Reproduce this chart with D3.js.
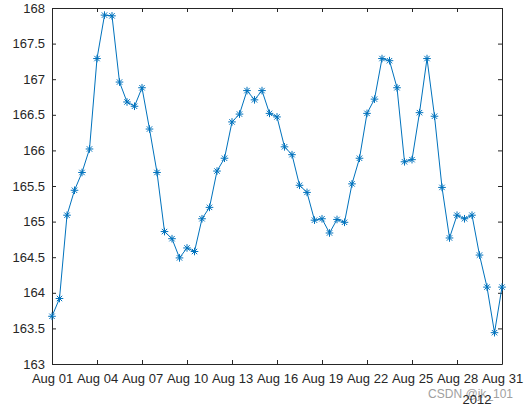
<!DOCTYPE html>
<html>
<head>
<meta charset="utf-8">
<script src="https://d3js.org/d3.v7.min.js"></script>
<style>
body { margin: 0; background: #fff; }
text { font-family: "Liberation Sans", Arial, sans-serif; }
</style>
</head>
<body>
<script>
//figure size
var w = 530, h = 411;

//readings every 12 hours, starting Aug 01 2012 00:00
var startDate = new Date(2012, 7, 1);
var stepHours = 12;
var values = [
    163.67, 163.92, 165.09, 165.44, 165.69, 166.02, 167.29, 167.90, 167.89, 166.96,
    166.68, 166.62, 166.88, 166.30, 165.69, 164.86, 164.76, 164.49, 164.63, 164.58,
    165.04, 165.20, 165.71, 165.89, 166.40, 166.51, 166.84, 166.71, 166.84, 166.52,
    166.47, 166.05, 165.94, 165.51, 165.41, 165.02, 165.04, 164.84, 165.03, 164.99,
    165.53, 165.89, 166.52, 166.72, 167.29, 167.26, 166.88, 165.84, 165.87, 166.53,
    167.29, 166.48, 165.48, 164.77, 165.09, 165.04, 165.09, 164.53, 164.08, 163.44,
    164.08
];

//tick values
var yTicks = [163, 163.5, 164, 164.5, 165, 165.5, 166, 166.5, 167, 167.5, 168];
var xTickDays = [1, 4, 7, 10, 13, 16, 19, 22, 25, 28, 31];
var yearLabel = "2012";
var watermark = "CSDN @jk_101";

//plot box (window.top is reserved, so use other names)
var boxLeft = 52, boxRight = 502, boxTop = 8, boxBottom = 364;
var axisColor = "#262626";
var lineColor = "#0072BD";

var svg = d3.select("body")
    .append("svg")
    .attr("width", w)
    .attr("height", h)
    .style("background-color", "#fff");

var data = values.map(function(v, i){
    return { date: d3.timeHour.offset(startDate, i * stepHours), value: v };
});

var x = d3.scaleTime()
    .domain([startDate, new Date(2012, 7, 31)])
    .range([boxLeft, boxRight]);

var y = d3.scaleLinear()
    .domain([163, 168])
    .range([boxBottom, boxTop]);

var xTicks = xTickDays.map(function(d){ return new Date(2012, 7, d); });
var fmt = d3.timeFormat("%b %d");

//bottom axis, ticks pointing in
svg.append("g")
    .attr("transform", "translate(0," + boxBottom + ")")
    .call(d3.axisBottom(x).tickValues(xTicks).tickFormat(fmt)
        .tickSizeInner(-4).tickSizeOuter(0).tickPadding(10));

//top axis, no labels
svg.append("g")
    .attr("transform", "translate(0," + boxTop + ")")
    .call(d3.axisTop(x).tickValues(xTicks).tickFormat("")
        .tickSizeInner(-4).tickSizeOuter(0));

//left axis
svg.append("g")
    .attr("transform", "translate(" + boxLeft + ",0)")
    .call(d3.axisLeft(y).tickValues(yTicks).tickFormat(d3.format(""))
        .tickSizeInner(-4).tickSizeOuter(0).tickPadding(7));

//right axis, no labels
svg.append("g")
    .attr("transform", "translate(" + boxRight + ",0)")
    .call(d3.axisRight(y).tickValues(yTicks).tickFormat("")
        .tickSizeInner(-4).tickSizeOuter(0));

svg.selectAll(".domain, .tick line")
    .attr("stroke", axisColor)
    .attr("stroke-width", 1);

svg.selectAll(".tick text")
    .attr("fill", axisColor)
    .style("font-size", "13px");

//the line
var line = d3.line()
    .x(function(d){ return x(d.date); })
    .y(function(d){ return y(d.value); });

svg.append("path")
    .datum(data)
    .attr("fill", "none")
    .attr("stroke", lineColor)
    .attr("stroke-width", 1)
    .attr("d", line);

//asterisk markers (plus + cross)
var a = 3.8, b = 2.7;
var star = "M" + (-a) + ",0L" + a + ",0M0," + (-a) + "L0," + a +
    "M" + (-b) + "," + (-b) + "L" + b + "," + b +
    "M" + (-b) + "," + b + "L" + b + "," + (-b);

svg.selectAll(".marker")
    .data(data)
    .enter()
    .append("path")
    .attr("class", "marker")
    .attr("transform", function(d){
        return "translate(" + x(d.date) + "," + y(d.value) + ")";
    })
    .attr("d", star)
    .attr("fill", "none")
    .attr("stroke", lineColor)
    .attr("stroke-width", 1);

//watermark
svg.append("text")
    .attr("x", 513)
    .attr("y", 398)
    .attr("text-anchor", "end")
    .attr("fill", "#a0a0a0")
    .style("font-size", "12px")
    .text(watermark);

//year label under the date axis
svg.append("text")
    .attr("x", 477)
    .attr("y", 404)
    .attr("text-anchor", "middle")
    .attr("fill", axisColor)
    .style("font-size", "13px")
    .text(yearLabel);
</script>
</body>
</html>
